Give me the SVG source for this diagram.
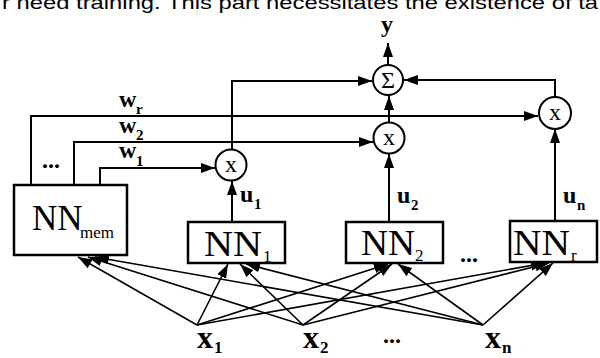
<svg xmlns="http://www.w3.org/2000/svg" width="600" height="358" viewBox="0 0 600 358">
<style>
.box{fill:#fff;stroke:#000;stroke-width:2.5}
.op{fill:#fff;stroke:#000;stroke-width:2}
.ln{fill:none;stroke:#000;stroke-width:2}
.in{fill:none;stroke:#000;stroke-width:1.6}
.big{font-family:"Liberation Serif",serif;font-size:35px;fill:#000}
.sub{font-family:"Liberation Serif",serif;font-size:17px;fill:#000}
.lab{font-family:"Liberation Serif",serif;font-size:24px;font-weight:bold;fill:#000}
.lsub{font-family:"Liberation Serif",serif;font-size:15px;font-weight:bold;fill:#000}
.xl{font-family:"Liberation Serif",serif;font-size:32px;font-weight:bold;fill:#000}
.xs{font-family:"Liberation Serif",serif;font-size:17px;font-weight:bold;fill:#000}
.sym{font-family:"Liberation Serif",serif;font-size:24px;fill:#000;text-anchor:middle}
.top{font-family:"Liberation Sans",Arial,sans-serif;font-size:19px;fill:#000}
</style>
<defs>
<marker id="ah" markerUnits="userSpaceOnUse" markerWidth="16" markerHeight="12" refX="14" refY="5" orient="auto">
<path d="M0,0 L14,5 L0,10 Z" fill="#000"/>
</marker>
</defs>
<text class="top" x="2" y="9" textLength="596" lengthAdjust="spacingAndGlyphs">r need training. This part necessitates the existence of ta</text>
<g id="connectors">
<path class="ln" d="M31,185 V116 H538" marker-end="url(#ah)"/>
<path class="ln" d="M74,185 V142 H373" marker-end="url(#ah)"/>
<path class="ln" d="M100,185 V168 H215" marker-end="url(#ah)"/>
<path class="ln" d="M232,149 V81 H372" marker-end="url(#ah)"/>
<path class="ln" d="M389,122 V96" marker-end="url(#ah)"/>
<path class="ln" d="M555,97 V80 H404" marker-end="url(#ah)"/>
<path class="ln" d="M388,66 V43" marker-end="url(#ah)"/>
<path class="ln" d="M232,222 V181" marker-end="url(#ah)"/>
<path class="ln" d="M389,222 V154" marker-end="url(#ah)"/>
<path class="ln" d="M555,220 V129" marker-end="url(#ah)"/>
<path class="in" d="M197,325 L78,257" marker-end="url(#ah)"/>
<path class="in" d="M197,325 L228,264" marker-end="url(#ah)"/>
<path class="in" d="M197,325 L388,264" marker-end="url(#ah)"/>
<path class="in" d="M197,325 L545,263" marker-end="url(#ah)"/>
<path class="in" d="M303,325 L88,257" marker-end="url(#ah)"/>
<path class="in" d="M303,325 L240,264" marker-end="url(#ah)"/>
<path class="in" d="M303,325 L392,264" marker-end="url(#ah)"/>
<path class="in" d="M303,325 L549,263" marker-end="url(#ah)"/>
<path class="in" d="M483,325 L95,257" marker-end="url(#ah)"/>
<path class="in" d="M483,325 L246,264" marker-end="url(#ah)"/>
<path class="in" d="M483,325 L398,264" marker-end="url(#ah)"/>
<path class="in" d="M483,325 L553,263" marker-end="url(#ah)"/>
</g>
<g id="sum"><circle class="op" cx="388" cy="80" r="15"/><text class="sym" x="388" y="88">Σ</text></g>
<g id="mul1"><circle class="op" cx="231" cy="165" r="15.5"/><text class="sym" x="231" y="172">x</text></g>
<g id="mul2"><circle class="op" cx="389" cy="138" r="15.5"/><text class="sym" x="389" y="145">x</text></g>
<g id="muln"><circle class="op" cx="555" cy="113" r="16"/><text class="sym" x="555" y="120">x</text></g>
<g id="nnmem"><rect class="box" x="14" y="185" width="113" height="70"/><text class="big" x="32" y="230">NN</text><text class="sub" x="80" y="238">mem</text></g>
<g id="nn1"><rect class="box" x="188" y="222" width="97" height="41"/><text class="big" x="204" y="256" textLength="58" lengthAdjust="spacingAndGlyphs">NN</text><text class="sub" x="263" y="262">1</text></g>
<g id="nn2"><rect class="box" x="346" y="222" width="97" height="41"/><text class="big" x="361" y="255" textLength="54" lengthAdjust="spacingAndGlyphs">NN</text><text class="sub" x="415" y="261">2</text></g>
<g id="nnr"><rect class="box" x="510" y="221" width="87" height="41"/><text class="big" x="513" y="255" textLength="57" lengthAdjust="spacingAndGlyphs">NN</text><text class="sub" x="571" y="261">r</text></g>
<g id="labels">
<text class="lab" x="381" y="32">y</text>
<text class="lab" x="119" y="107">w</text><text class="lsub" x="136" y="114">r</text>
<text class="lab" x="119" y="133">w</text><text class="lsub" x="136" y="140">2</text>
<text class="lab" x="119" y="158">w</text><text class="lsub" x="136" y="166">1</text>
<text class="lab" x="42" y="168">...</text>
<text class="lab" x="240" y="202">u</text><text class="lsub" x="254" y="209">1</text>
<text class="lab" x="397" y="203">u</text><text class="lsub" x="411" y="210">2</text>
<text class="lab" x="563" y="203">u</text><text class="lsub" x="577" y="210">n</text>
<text class="lab" x="460" y="262">...</text>
<text class="xl" x="197" y="348">x</text><text class="xs" x="214" y="353">1</text>
<text class="xl" x="303" y="348">x</text><text class="xs" x="320" y="353">2</text>
<text class="lab" x="383" y="343">...</text>
<text class="xl" x="485" y="348">x</text><text class="xs" x="502" y="353">n</text>
</g>
</svg>
